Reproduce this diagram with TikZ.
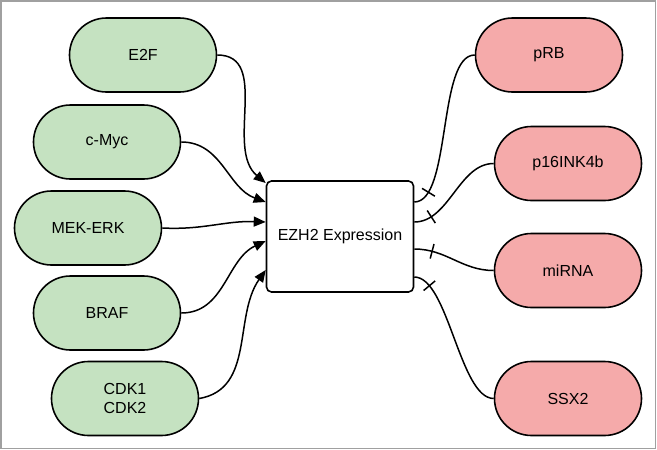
\documentclass[tikz,border=0pt]{standalone}
\usepackage{fontspec}
\setmainfont{Liberation Sans}
\usetikzlibrary{arrows.meta,decorations.markings}
\definecolor{actgreen}{RGB}{197,226,193}
\definecolor{inhred}{RGB}{245,170,170}
\tikzset{
  pill/.style={
    draw=black, line width=1.6pt, rounded corners=37pt,
    minimum width=147pt, minimum height=74pt, inner sep=0pt,
    align=center, font=\fontsize{16}{19.5}\selectfont
  },
  activator/.style={pill, fill=actgreen},
  target/.style={pill, fill=inhred},
  hub/.style={
    draw=black, line width=1.6pt, rounded corners=5pt, fill=white,
    minimum width=147pt, minimum height=111pt, inner sep=0pt,
    font=\fontsize{16}{19.5}\selectfont
  },
  activates/.style={line width=1.5pt, -{Triangle[length=12pt,width=10pt]}},
  inhibits/.style={line width=1.5pt,
    decoration={markings, mark=at position 18pt with {\draw[line width=1.5pt] (0pt,-7.5pt) -- (0pt,7.5pt);}},
    postaction={decorate}}
}

\begin{document}
\begin{tikzpicture}[x=1pt,y=-1pt]

  \useasboundingbox (0,0) rectangle (657,450);
  \draw[draw={rgb,255:red,160;green,160;blue,160}, line width=1.5pt] (1,1) rectangle (655.5,448.5);

  \node[hub] (ezh) at (340,236.5) {EZH2 Expression};

  \node[activator] (e2f) at (143,55) {E2F};
  \node[activator] (cmyc) at (107,142) {c-Myc};
  \node[activator] (mekerk) at (88,228) {MEK-ERK};
  \node[activator] (braf) at (107,313) {BRAF};
  \node[activator] (cdk) at (125,398.5) {CDK1\\CDK2};

  \node[target] (prb) at (549,55) {pRB};
  \node[target] (p16) at (568,163.5) {p16INK4b};
  \node[target] (mirna) at (568,270.5) {miRNA};
  \node[target] (ssx2) at (568,398.5) {SSX2};

  % activators
  \draw[activates] (e2f.east) to[out=0,in=140] ([yshift=53.5pt]ezh.west);
  \draw[activates] (cmyc.east) to[out=0,in=160] ([yshift=34.5pt]ezh.west);
  \draw[activates] (mekerk.east) to[out=-3,in=178] ([yshift=14.5pt]ezh.west);
  \draw[activates] (braf.east) to[out=0,in=205] ([yshift=-4.5pt]ezh.west);
  \draw[activates] (cdk.east) to[out=10,in=235] ([yshift=-33.5pt]ezh.west);

  % inhibited targets
  \draw[inhibits] ([yshift=34.5pt]ezh.east) to[out=0,in=180,looseness=0.6] (prb.west);
  \draw[inhibits] ([yshift=14.5pt]ezh.east) to[out=0,in=180,looseness=0.9] (p16.west);
  \draw[inhibits] ([yshift=-12.5pt]ezh.east) to[out=0,in=180] (mirna.west);
  \draw[inhibits] ([yshift=-40.5pt]ezh.east) to[out=0,in=180,looseness=0.6] (ssx2.west);

\end{tikzpicture}
\end{document}
